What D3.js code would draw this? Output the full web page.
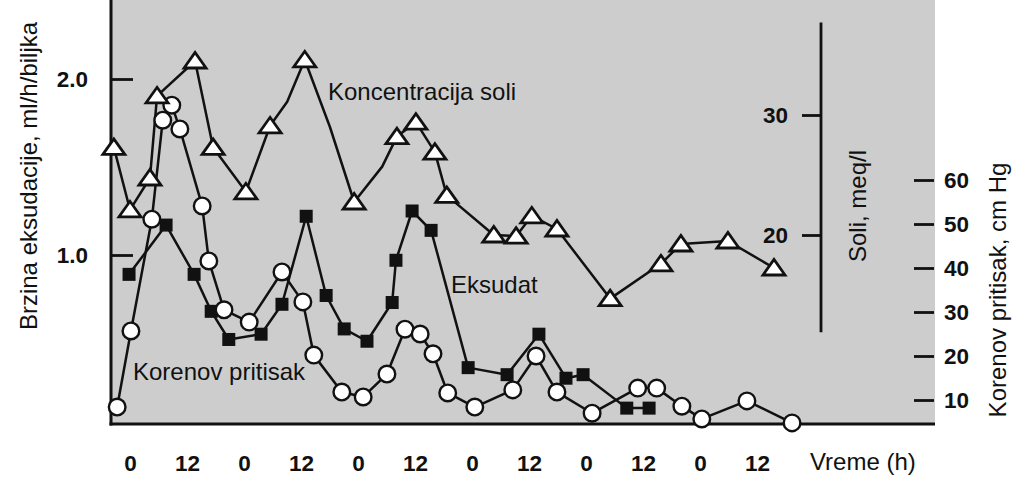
<!DOCTYPE html>
<html>
<head>
<meta charset="utf-8">
<script src="https://cdn.jsdelivr.net/npm/d3@7"></script>
<style>
  html, body { margin: 0; padding: 0; background: #ffffff; }
  svg { display: block; font-family: "Liberation Sans", Arial, sans-serif; }
</style>
</head>
<body>
<svg id="chart" width="1024" height="479"></svg>
<script>
// ---------------- DATA ----------------
// time in hours (0 = first midnight)
const timeTicks = [0, 12, 24, 36, 48, 60, 72, 84, 96, 108, 120, 132];
const timeLabels = ["0", "12", "0", "12", "0", "12", "0", "12", "0", "12", "0", "12"];

// Koncentracija soli (meq/l) – triangles; flag 0 = line vertex without marker
const soliHours  = [-3.4, 0, 4.2, 5.7, 13.7, 17.5, 24.4, 29.5, 33.1, 36.8, 42.1, 47.2, 53.1, 56.2, 60.2, 64.2, 66.7, 76.6, 81.3, 84.6, 89.9, 101.1, 111.8, 116.0, 125.9, 135.6];
const soliValues = [27.3, 22.1, 24.75, 31.6, 34.5, 27.3, 23.6, 29.1, 31.1, 34.6, 29.0, 22.75, 25.7, 28.2, 29.4, 26.9, 23.3, 20.0, 19.9, 21.6, 20.5, 14.7, 17.6, 19.25, 19.5, 17.25];
const soliMarked = [1, 1, 1, 1, 1, 1, 1, 1, 0, 1, 0, 1, 0, 1, 1, 1, 1, 1, 1, 1, 1, 1, 1, 1, 1, 1];

// Eksudat (ml/h/biljka) – black squares
const eksHours  = [-0.2, 7.6, 13.5, 17.1, 20.8, 27.6, 32.0, 37.1, 41.3, 45.1, 49.9, 55.2, 56.0, 59.4, 63.4, 71.2, 79.4, 86.1, 91.8, 95.4, 104.6, 109.3];
const eksValues = [0.89, 1.17, 0.89, 0.68, 0.52, 0.55, 0.72, 1.22, 0.77, 0.58, 0.51, 0.73, 0.97, 1.25, 1.14, 0.36, 0.32, 0.55, 0.30, 0.32, 0.13, 0.13];

// Korenov pritisak (cm Hg) – open circles
const presHours  = [-2.7, 0.2, 4.6, 6.9, 8.8, 10.5, 15.2, 16.6, 19.8, 25.1, 32.0, 36.4, 38.7, 44.6, 49.1, 54.1, 57.9, 61.1, 63.8, 66.9, 72.6, 80.6, 85.5, 89.9, 97.3, 106.9, 110.9, 116.2, 120.4, 129.9, 139.4];
const presValues = [8.4, 25.7, 51.1, 73.6, 77.0, 71.6, 54.1, 41.6, 30.5, 27.7, 39.1, 32.3, 20.2, 11.8, 10.7, 15.9, 26.1, 25.0, 20.5, 11.6, 8.4, 12.3, 20.0, 11.8, 7.0, 12.7, 12.7, 8.6, 5.7, 9.8, 4.8];

// axis ticks
const leftTicks = [1.0, 2.0];
const soliTicks = [20, 30];
const soliAxisExtent = [11.9, 37.7];
const presTicks = [10, 20, 30, 40, 50, 60];

// ---------------- LAYOUT ----------------
const svg = d3.select("#chart");
const plot = { left: 111, right: 935, top: 0, bottom: 424 };

const x = d3.scaleLinear().domain([-4, 169.5]).range([plot.left, plot.right]);
const yLeft = d3.scaleLinear().domain([0, 2]).range([431, 79]);
const ySoli = d3.scaleLinear().domain([20, 30]).range([235, 115]);
const yPres = d3.scaleLinear().domain([10, 60]).range([400, 180]);

// background
svg.append("rect").attr("width", 1024).attr("height", 479).attr("fill", "#ffffff");
svg.append("rect")
  .attr("x", plot.left).attr("y", plot.top)
  .attr("width", plot.right - plot.left).attr("height", plot.bottom - plot.top + 1)
  .attr("fill", "#cdcdcd");

// ---------------- AXES ----------------
function styleAxis(g, size, weight) {
  g.select(".domain").remove();
  g.selectAll(".tick line").attr("stroke", "#111").attr("stroke-width", 2.8);
  g.selectAll(".tick text").attr("fill", "#111").style("font-size", size + "px")
    .style("font-weight", weight).style("font-family", "'Liberation Sans', Arial, sans-serif");
}

// left axis (ticks inward)
const gLeft = svg.append("g").attr("transform", `translate(${plot.left},0)`)
  .call(d3.axisLeft(yLeft).tickValues(leftTicks).tickFormat(d3.format(".1f")).tickSize(-22).tickPadding(23));
styleAxis(gLeft, 22.5, "bold");

// soli axis
const soliX = 821;
const gSoli = svg.append("g").attr("transform", `translate(${soliX},0)`)
  .call(d3.axisLeft(ySoli).tickValues(soliTicks).tickSize(19).tickPadding(14));
styleAxis(gSoli, 22.5, "bold");
svg.append("line")
  .attr("x1", soliX).attr("x2", soliX)
  .attr("y1", ySoli(soliAxisExtent[1])).attr("y2", ySoli(soliAxisExtent[0]))
  .attr("stroke", "#111").attr("stroke-width", 2.8);

// pressure axis
const gPres = svg.append("g").attr("transform", `translate(914,0)`)
  .call(d3.axisRight(yPres).tickValues(presTicks).tickSize(20).tickPadding(10));
styleAxis(gPres, 22.5, "bold");

// bottom time labels
const gBottom = svg.append("g").attr("transform", `translate(0,${plot.bottom})`)
  .call(d3.axisBottom(x).tickValues(timeTicks).tickFormat((d, i) => timeLabels[i]).tickSize(0).tickPadding(31));
styleAxis(gBottom, 22.5, "bold");

// frame lines (left + bottom)
svg.append("line").attr("x1", plot.left).attr("x2", plot.left).attr("y1", 0).attr("y2", plot.bottom + 1.5)
  .attr("stroke", "#111").attr("stroke-width", 3);
svg.append("line").attr("x1", plot.left - 1.5).attr("x2", plot.right).attr("y1", plot.bottom).attr("y2", plot.bottom)
  .attr("stroke", "#111").attr("stroke-width", 3);

// ---------------- SERIES ----------------
const soliData = soliHours.map((h, i) => ({ h, v: soliValues[i], m: soliMarked[i] }));
const eksData = eksHours.map((h, i) => ({ h, v: eksValues[i] }));
const presData = presHours.map((h, i) => ({ h, v: presValues[i] }));

function drawLine(data, yScale) {
  svg.append("path").datum(data)
    .attr("fill", "none").attr("stroke", "#111").attr("stroke-width", 2.5)
    .attr("stroke-linejoin", "round")
    .attr("d", d3.line().x(d => x(d.h)).y(d => yScale(d.v)));
}
drawLine(presData, yPres);
drawLine(eksData, yLeft);
drawLine(soliData, ySoli);

// squares
svg.append("g").selectAll("rect").data(eksData).join("rect")
  .attr("x", d => x(d.h) - 6.5).attr("y", d => yLeft(d.v) - 6.5)
  .attr("width", 13).attr("height", 13).attr("fill", "#111");

// circles
svg.append("g").selectAll("circle").data(presData).join("circle")
  .attr("cx", d => x(d.h)).attr("cy", d => yPres(d.v)).attr("r", 8.3)
  .attr("fill", "#fff").attr("stroke", "#111").attr("stroke-width", 2.4);

// triangles
svg.append("g").selectAll("path").data(soliData.filter(d => d.m)).join("path")
  .attr("transform", d => `translate(${x(d.h)},${ySoli(d.v)})`)
  .attr("d", "M-11,7 L11,7 L0,-8.5 Z")
  .attr("fill", "#fff").attr("stroke", "#111").attr("stroke-width", 2.8).attr("stroke-linejoin", "miter");

// ---------------- TEXT ----------------
const font = "'Liberation Sans', Arial, sans-serif";
function label(txt, xp, yp, opts = {}) {
  const t = svg.append("text").text(txt)
    .attr("fill", "#111").style("font-family", font)
    .style("font-size", (opts.size || 24) + "px")
    .attr("text-anchor", opts.anchor || "start");
  if (opts.rotate) t.attr("transform", `translate(${xp},${yp}) rotate(-90)`);
  else t.attr("x", xp).attr("y", yp);
  return t;
}
label("Koncentracija soli", 328, 100);
label("Eksudat", 451, 293);
label("Korenov pritisak", 133, 380);
label("Vreme (h)", 810, 470);
label("Brzina eksudacije, ml/h/biljka", 37, 176, { rotate: true, anchor: "middle" });
label("Soli, meq/l", 866, 206, { rotate: true, anchor: "middle" });
label("Korenov pritisak, cm Hg", 1006, 290, { rotate: true, anchor: "middle" });
</script>
</body>
</html>
